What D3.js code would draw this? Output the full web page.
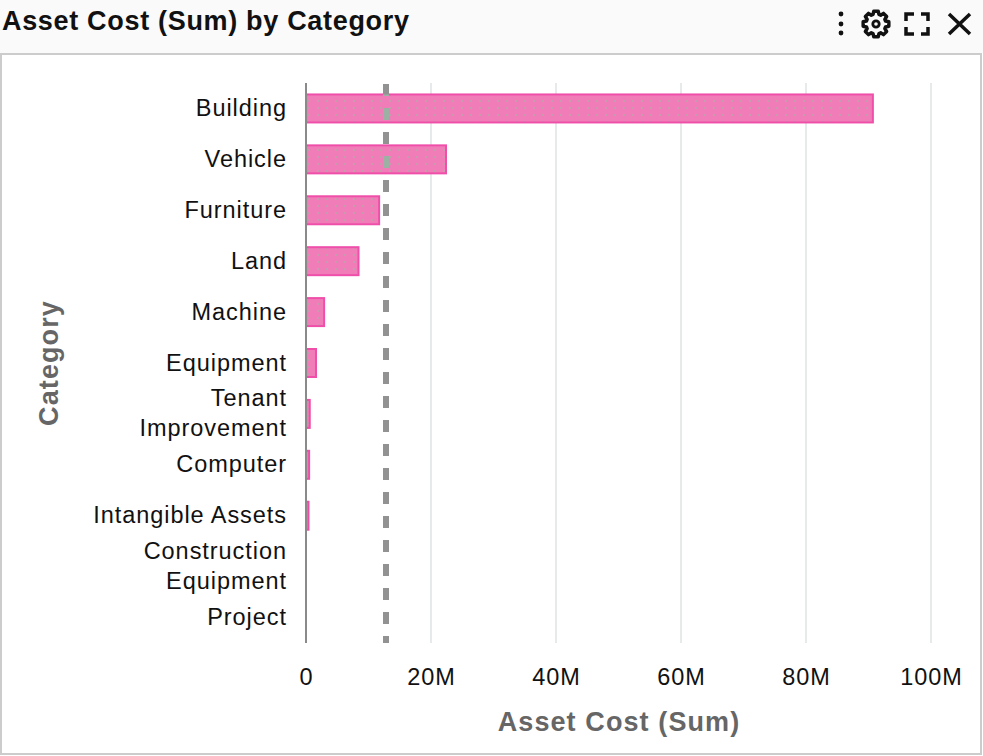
<!DOCTYPE html>
<html lang="en">
<head>
<meta charset="UTF-8">
<title>Asset Cost (Sum) by Category</title>
<style>
    html, body { margin: 0; padding: 0; background: #fff; overflow: hidden; }
    svg { display: block; font-family: "Liberation Sans", Arial, sans-serif; }
    .tick text { font-size: 23.5px; fill: #111; letter-spacing: 0.95px; }
    .axis-title { font-size: 27px; font-weight: bold; fill: #666; letter-spacing: 1.1px; }
    .title { font-size: 27px; font-weight: bold; fill: #111; letter-spacing: 0.68px; }
    .domain { display: none; }
</style>
</head>
<body>
<svg id="chart" width="983" height="756"></svg>
<script src="https://d3js.org/d3.v7.min.js"></script>
<script>
const categories = ["Building", "Vehicle", "Furniture", "Land", "Machine", "Equipment",
    "Tenant Improvement", "Computer", "Intangible Assets", "Construction Equipment", "Project"];
const assetCost = [90700000, 22400000, 11700000, 8400000, 2900000, 1600000,
    600000, 500000, 400000, 0, 0];
const averageCost = 12800000;
const xTicks = [0, 20000000, 40000000, 60000000, 80000000, 100000000];
const wrappedLabels = {
    "Tenant Improvement": ["Tenant", "Improvement"],
    "Construction Equipment": ["Construction", "Equipment"]
};

const svg = d3.select("#chart");
const margin = {top: 83, right: 52, bottom: 113, left: 306};
const width = 983 - margin.left - margin.right;
const height = 756 - margin.top - margin.bottom;

// header strip + panel border
svg.append("rect").attr("width", 983).attr("height", 53).attr("fill", "#fafafa");
svg.append("rect").attr("x", 1).attr("y", 54).attr("width", 980).attr("height", 700)
    .attr("fill", "#fff").attr("stroke", "#cccccc").attr("stroke-width", 2);
svg.append("text").attr("class", "title").attr("x", 2).attr("y", 30)
    .text("Asset Cost (Sum) by Category");

// speckle seen inside the bars
const defs = svg.append("defs");
const speckle = defs.append("pattern").attr("id", "speckle")
    .attr("width", 9).attr("height", 7).attr("patternUnits", "userSpaceOnUse");
speckle.append("rect").attr("width", 9).attr("height", 7).attr("fill", "#f17db8");
speckle.append("rect").attr("x", 2).attr("y", 3).attr("width", 2).attr("height", 2).attr("fill", "#c79aae");

const g = svg.append("g").attr("transform", `translate(${margin.left},${margin.top})`);

const x = d3.scaleLinear().domain([0, 100000000]).range([0, 625]);
const y = d3.scaleBand().domain(categories).range([0, height]).paddingInner(0.45).paddingOuter(0.225);

// grid
g.append("g").selectAll("line").data(xTicks.slice(1)).join("line")
    .attr("x1", d => x(d)).attr("x2", d => x(d))
    .attr("y1", 0).attr("y2", height)
    .attr("stroke", "#e6eaea").attr("stroke-width", 2);

// bars
g.append("g").selectAll("rect").data(categories).join("rect")
    .attr("x", 0)
    .attr("y", d => y(d))
    .attr("width", (d, i) => x(assetCost[i]))
    .attr("height", y.bandwidth())
    .attr("fill", "url(#speckle)")
    .attr("stroke", (d, i) => assetCost[i] > 0 ? "#ef4fa9" : "none")
    .attr("stroke-width", 2);

// average line, greener where it shows through the bars
defs.append("clipPath").attr("id", "bars-clip")
    .selectAll("rect").data(categories).join("rect")
    .attr("x", 0)
    .attr("y", d => y(d))
    .attr("width", (d, i) => x(assetCost[i]))
    .attr("height", y.bandwidth());

const addAverage = (color) => g.append("line")
    .attr("x1", x(averageCost)).attr("x2", x(averageCost))
    .attr("y1", 1).attr("y2", height)
    .attr("stroke", color).attr("stroke-width", 6)
    .attr("stroke-dasharray", "12,12");
addAverage("#929292");
addAverage("#9cb0a4").attr("clip-path", "url(#bars-clip)");

// y axis line
g.append("line").attr("x1", 0).attr("x2", 0).attr("y1", 0).attr("y2", height)
    .attr("stroke", "#8a8a8a").attr("stroke-width", 2);

// axes
const fmt = d => d === 0 ? "0" : (d / 1000000) + "M";
const xAxis = g.append("g").attr("transform", `translate(0,${height})`)
    .call(d3.axisBottom(x).tickValues(xTicks).tickFormat(fmt).tickSize(0).tickPadding(25));
xAxis.selectAll("text").attr("dy", "0.71em");

const yAxis = g.append("g").call(d3.axisLeft(y).tickSize(0).tickPadding(19));
yAxis.selectAll(".tick text").each(function(d) {
    const lines = wrappedLabels[d];
    if (!lines) return;
    const t = d3.select(this).text(null).attr("dy", null);
    lines.forEach((line, i) => {
        t.append("tspan").attr("x", -19).attr("y", i === 0 ? -15 : 15)
            .attr("dy", "0.32em").text(line);
    });
});

// axis titles
svg.append("text").attr("class", "axis-title").attr("text-anchor", "middle")
    .attr("x", 619).attr("y", 731).text("Asset Cost (Sum)");
svg.append("text").attr("class", "axis-title").attr("text-anchor", "middle")
    .attr("transform", "translate(58,363) rotate(-90)").text("Category");

// header icons
const icons = svg.append("g").attr("fill", "none").attr("stroke", "#111").attr("stroke-width", 3);
icons.append("g").attr("stroke", "none").attr("fill", "#111").selectAll("circle")
    .data([14, 24, 33]).join("circle").attr("cx", 841).attr("cy", d => d).attr("r", 2.4);

const gearPoints = d3.range(8).flatMap(i => {
    const a = i * Math.PI / 4;
    return [[a - 0.3, 10], [a - 0.17, 13], [a + 0.17, 13], [a + 0.3, 10]];
});
const gear = icons.append("g").attr("transform", "translate(876,24)");
gear.append("path").attr("stroke-width", 3.5).attr("stroke-linejoin", "round")
    .attr("d", d3.lineRadial().curve(d3.curveLinearClosed)(gearPoints));
gear.append("circle").attr("r", 3.2).attr("stroke-width", 2.8);

icons.append("path").attr("stroke-width", 3.5)
    .attr("d", "M906 21V14H914 M921 14H928V21 M928 27V34H921 M914 34H906V27");
icons.append("path").attr("stroke-width", 3.5)
    .attr("d", "M949 14L970 34 M970 14L949 34");
</script>
</body>
</html>
